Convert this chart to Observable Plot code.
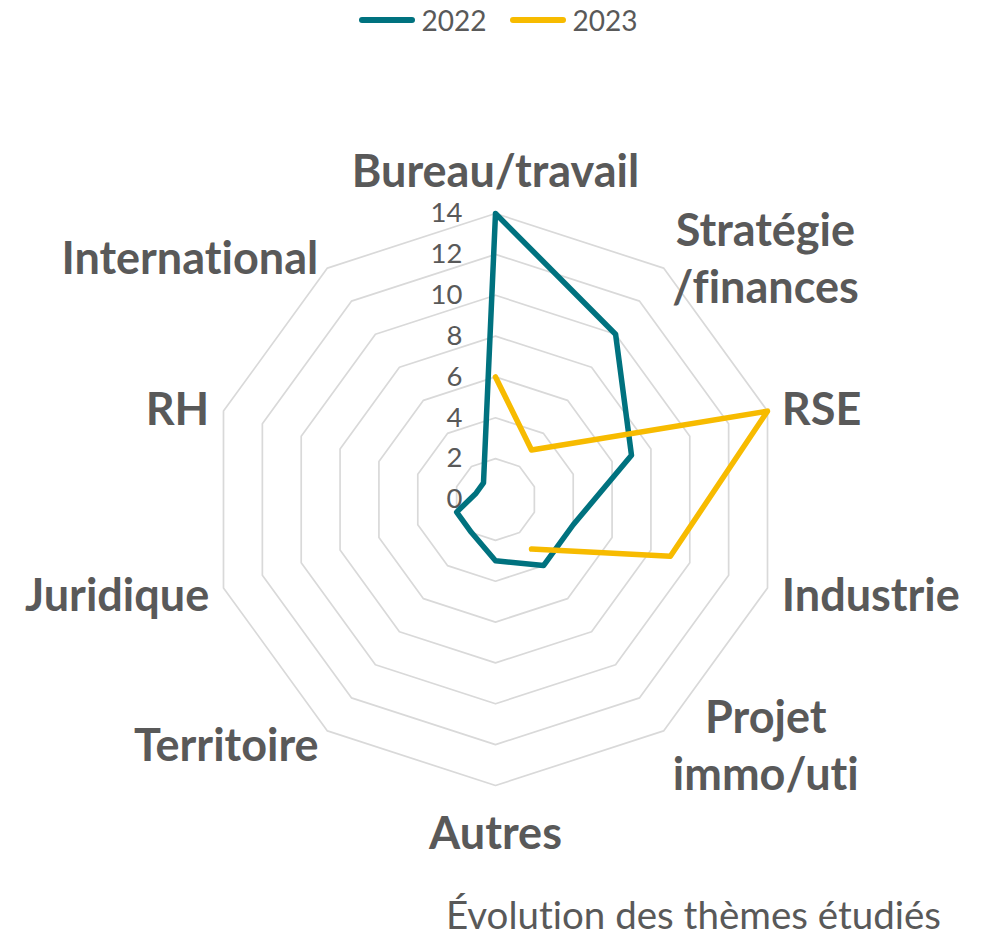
<!DOCTYPE html>
<html>
<head>
<meta charset="utf-8">
<script src="https://cdn.jsdelivr.net/npm/d3@7"></script>
<script src="https://cdn.jsdelivr.net/npm/@observablehq/plot@0.6"></script>
<style>
  html, body { margin: 0; padding: 0; background: #fff; }
  body { width: 989px; height: 938px; overflow: hidden; font-family: Lato, "Open Sans", sans-serif; color: #595959; font-variant-ligatures: none; }
  svg text { font-variant-ligatures: none; }
  #legend { height: 40px; display: flex; justify-content: center; align-items: center; gap: 22px; padding-left: 6px; }
  .item { display: flex; align-items: center; gap: 6px; font-size: 28px; }
  #caption { text-align: right; padding-right: 48px; font-size: 38.5px; line-height: 48px; }
</style>
</head>
<body>
<div id="legend"></div>
<div id="chart"></div>
<div id="caption">Évolution des thèmes étudiés</div>
<script>
// ---- data ----
const categories = ["Bureau/travail", "Stratégie\n/finances", "RSE", "Industrie", "Projet\nimmo/uti", "Autres", "Territoire", "Juridique", "RH", "International"];
const series = ["2022", "2023"];
const values2022 = [14, 10, 7, 4, 4, 3, 2, 2, 1, 1];
const values2023 = [6, 3, 14, 9, 3, null, null, null, null, null];
const tickValues = [0, 2, 4, 6, 8, 10, 12, 14];
const colors = {"2022": "#00727f", "2023": "#f7bb00"};

// ---- geometry ----
const W = 989, H = 850;
const cx = 495, cy = 459;          // pixel centre inside the svg
const maxVal = 14, outerPx = 286;
const ppu = outerPx / maxVal;       // pixels per unit
const n = categories.length;
const ang = i => i * 2 * Math.PI / n;
const px = (i, v) => v * Math.sin(ang(i));
const py = (i, v) => v * Math.cos(ang(i));

const rings = [];
for (const v of tickValues.filter(d => d > 0))
  for (let i = 0; i < n; i++) rings.push({ring: v, x: px(i, v), y: py(i, v)});

const pts2022 = values2022.map((v, i) => ({x: px(i, v), y: py(i, v)}));
const pts2023 = values2023.map((v, i) => v == null ? null : ({x: px(i, v), y: py(i, v)})).filter(d => d);

// label placement
const labelSize = 45;
const ctx = document.createElement("canvas").getContext("2d");
ctx.font = `bold ${labelSize}px Lato`;
const labels = categories.map((c, i) => {
  const s = Math.sin(ang(i));
  const vertical = Math.abs(s) < 0.1;
  const offPx = vertical ? 45 : 15;
  const r = maxVal + offPx / ppu;
  const w = Math.max(...c.split("\n").map(l => ctx.measureText(l).width));
  const shift = vertical ? 0 : Math.sign(s) * w / 2 / ppu;
  return {text: c, x: px(i, r) + shift, y: py(i, r)};
});

const chart = Plot.plot({
  width: W, height: H, margin: 0,
  x: {domain: [-cx / ppu, (W - cx) / ppu], axis: null},
  y: {domain: [-(H - cy) / ppu, cy / ppu], axis: null},
  style: {fontFamily: "Lato, sans-serif", color: "#595959", background: "transparent"},
  marks: [
    Plot.line(rings, {x: "x", y: "y", z: "ring", curve: "linear-closed", stroke: "#d9d9d9", strokeWidth: 1.7}),
    Plot.text(tickValues, {x: 0, y: d => d, text: d => String(d), textAnchor: "end", dx: -33, fontSize: 27.5, fill: "#595959"}),
    Plot.line(pts2022, {x: "x", y: "y", curve: "linear-closed", stroke: colors["2022"], strokeWidth: 5.5, strokeLinejoin: "round"}),
    Plot.line(pts2023, {x: "x", y: "y", curve: "linear", stroke: colors["2023"], strokeWidth: 5.5, strokeLinejoin: "round", strokeLinecap: "round"}),
    Plot.text(labels, {x: "x", y: "y", text: "text", textAnchor: "middle", fontSize: labelSize, fontWeight: "bold", lineHeight: 1.27, fill: "#595959"})
  ]
});
document.getElementById("chart").appendChild(chart);

// legend
const leg = document.getElementById("legend");
for (const s of series) {
  const item = document.createElement("div");
  item.className = "item";
  item.innerHTML = `<svg width="58" height="10"><line x1="4" y1="5" x2="54" y2="5" stroke="${colors[s]}" stroke-width="6" stroke-linecap="round"/></svg><span>${s}</span>`;
  leg.appendChild(item);
}
</script>
</body>
</html>
